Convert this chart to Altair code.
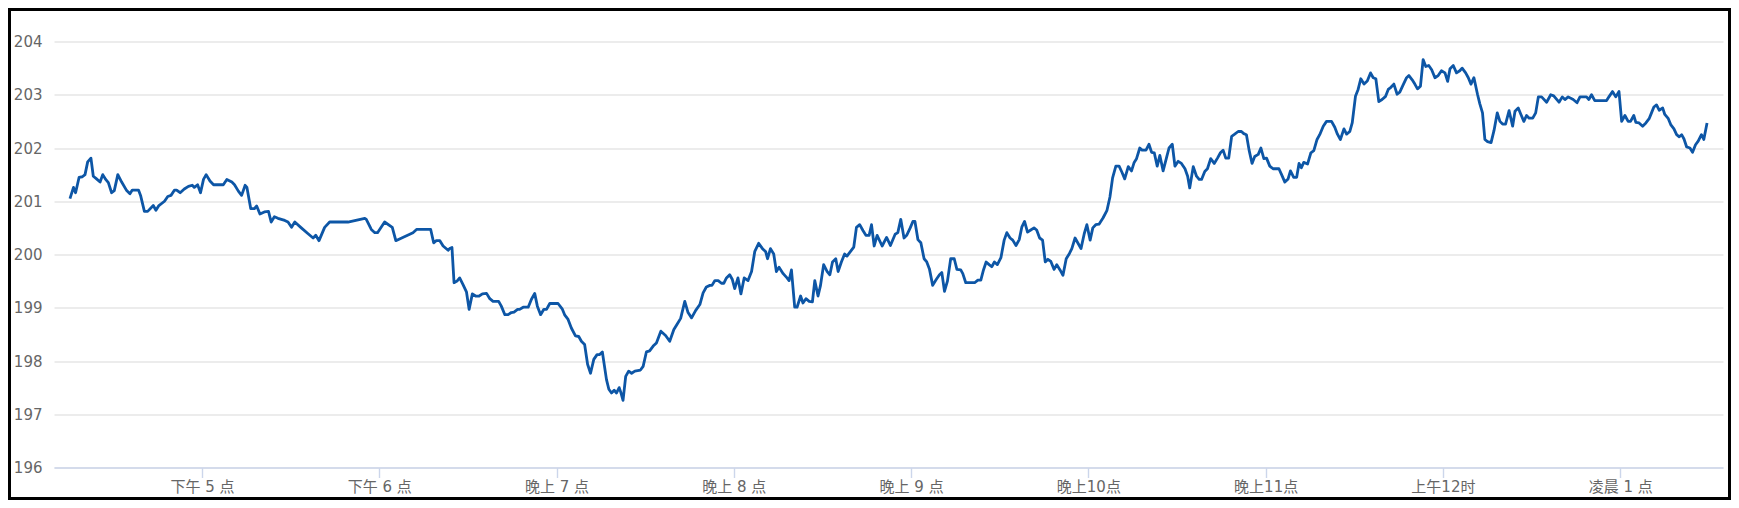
import altair as alt
import pandas as pd

# Time of each reading, in minutes after 4 PM (16:00)
minutes_after_4pm = [
    15.3, 16.5, 17.2, 18.4, 19.5, 20.4, 21.3, 22.4, 23.2, 24.1, 25.5, 26.4, 27.4, 28.3, 29.4, 30.3,
    31.5, 32.8, 34.5, 35.6, 36.4, 38.5, 39.2, 40.5, 41.6, 43.5, 44.4, 45.4, 47.3, 48.4, 49.5, 50.7,
    51.4, 52.6, 54.0, 55.4, 56.7, 57.4, 58.5, 59.5, 60.5, 61.4, 62.7, 63.9, 67.2, 68.4, 70.1, 71.0,
    72.3, 73.4, 74.6, 75.2, 76.5, 77.7, 78.5, 79.6, 81.1, 82.5, 83.4, 84.5, 85.7, 88.0, 89.1, 90.3,
    91.4, 93.6, 95.9, 97.6, 98.5, 99.6, 101.5, 103.2, 109.4, 115.1, 115.6, 117.3, 118.5, 119.4, 121.8,
    124.4, 125.6, 131.4, 132.6, 137.4, 138.4, 139.3, 140.5, 141.6, 143.3, 143.8, 144.6, 145.3, 146.3,
    147.2, 148.3, 149.5, 150.4, 151.5, 152.6, 153.8, 154.9, 156.3, 157.4, 158.5, 160.4, 161.3, 162.5,
    163.6, 164.7, 165.6, 166.8, 167.5, 168.7, 170.4, 171.5, 172.6, 173.5, 174.6, 175.7, 176.6, 177.7,
    180.5, 181.9, 182.8, 183.9, 185.0, 186.4, 187.5, 188.4, 189.5, 190.5, 191.5, 192.6, 193.7, 194.6,
    195.5, 196.9, 197.7, 198.6, 199.5, 200.3, 201.2, 201.7, 202.5, 203.4, 204.4, 205.4, 206.5, 208.4,
    209.3, 210.4, 211.5, 212.7, 213.8, 215.3, 216.9, 218.3, 219.7, 220.8, 222.0, 223.4, 224.5, 225.7,
    227.1, 228.5, 229.6, 230.7, 231.9, 232.6, 233.6, 234.7, 235.8, 236.6, 237.5, 238.6, 239.5, 240.3,
    241.4, 242.4, 243.5, 244.8, 246.0, 247.1, 248.4, 249.7, 250.8, 251.4, 252.4, 253.5, 254.4, 255.3,
    256.7, 258.0, 258.7, 259.5, 260.6, 261.4, 262.6, 263.4, 264.4, 265.5, 266.6, 267.4, 268.5, 269.3,
    270.4, 271.6, 272.5, 273.4, 274.5, 275.3, 276.4, 277.5, 278.3, 279.5, 280.6, 281.5, 282.6, 283.7,
    284.7, 285.8, 286.6, 287.5, 288.5, 290.2, 291.7, 293.0, 294.6, 295.5, 296.5, 297.6, 298.5, 299.7,
    300.6, 301.3, 302.3, 303.3, 304.4, 305.3, 306.2, 307.3, 308.5, 309.6, 310.4, 311.3, 312.3, 313.4,
    314.6, 315.5, 316.8, 317.5, 318.5, 321.5, 322.6, 323.6, 324.5, 325.4, 326.4, 327.3, 328.2, 329.2,
    330.4, 331.5, 332.4, 333.5, 334.4, 335.5, 336.6, 337.5, 338.4, 339.4, 340.5, 341.6, 342.5, 343.5,
    344.5, 345.4, 346.3, 347.3, 348.4, 349.3, 350.4, 351.4, 352.5, 353.6, 354.4, 355.5, 356.4, 357.5,
    358.6, 359.5, 360.6, 361.5, 362.5, 363.6, 365.0, 366.3, 367.3, 368.2, 369.3, 370.4, 371.4, 372.3,
    373.5, 374.6, 375.5, 376.3, 377.4, 378.2, 379.5, 380.5, 381.4, 382.3, 383.3, 384.2, 385.3, 386.5,
    387.3, 388.4, 389.3, 390.4, 391.5, 392.7, 393.6, 394.3, 395.5, 396.6, 397.5, 398.3, 399.4, 400.3,
    401.4, 402.6, 403.7, 404.7, 405.6, 406.5, 407.5, 408.5, 409.3, 410.7, 411.8, 412.6, 413.5, 414.4,
    415.4, 416.3, 417.5, 418.4, 419.4, 420.3, 421.4, 422.5, 424.5, 425.4, 426.5, 427.6, 428.4, 429.5,
    430.5, 431.3, 432.1, 432.9, 434.2, 435.3, 436.3, 437.4, 438.3, 439.5, 440.6, 442.3, 443.4, 444.3,
    445.3, 446.5, 447.4, 448.5, 449.3, 450.4, 451.3, 452.2, 453.3, 454.4, 455.5, 456.4, 457.3, 458.3,
    459.4, 460.6, 461.5, 462.4, 463.4, 464.5, 465.4, 466.5, 467.7, 468.5, 469.6, 470.5, 471.4, 472.4,
    473.3, 474.2, 475.2, 476.2, 477.3, 478.4, 479.5, 480.7, 481.6, 482.4, 483.5, 484.6, 485.7, 486.5,
    487.7, 488.6, 489.5, 490.5, 491.7, 492.5, 493.4, 494.2, 495.1, 496.3, 497.3, 498.4, 499.3, 500.2,
    501.2, 502.4, 503.6, 504.4, 505.5, 506.4, 507.4, 508.3, 509.2, 510.4, 511.4, 512.3, 513.4, 515.1,
    516.5, 517.5, 519.3, 520.4, 521.3, 522.4, 524.1, 525.4, 526.4, 528.6, 529.4, 530.3, 531.4, 535.4,
    536.3, 537.4, 538.5, 539.6, 540.5, 541.6, 542.7, 543.5, 544.6, 545.3, 546.4, 547.6, 548.7, 549.8,
    550.6, 551.4, 552.3, 553.2, 554.4, 555.1, 556.3, 557.1, 558.2, 559.1, 560.0, 560.8, 561.6, 562.5,
    563.6, 564.5, 565.5, 566.4, 567.5, 568.3, 569.4,
]

price = [
    201.05, 201.26, 201.16, 201.45, 201.46, 201.50, 201.74, 201.81, 201.47, 201.43, 201.36, 201.50, 201.41, 201.35, 201.16, 201.20,
    201.50, 201.36, 201.20, 201.14, 201.21, 201.21, 201.11, 200.81, 200.81, 200.92, 200.83, 200.92, 201.00, 201.09, 201.11, 201.21,
    201.21, 201.16, 201.23, 201.28, 201.30, 201.26, 201.31, 201.16, 201.41, 201.50, 201.38, 201.31, 201.31, 201.41, 201.36, 201.31,
    201.19, 201.11, 201.30, 201.26, 200.86, 200.86, 200.91, 200.76, 200.80, 200.81, 200.61, 200.71, 200.68, 200.64, 200.61, 200.51,
    200.61, 200.50, 200.39, 200.31, 200.36, 200.26, 200.51, 200.61, 200.61, 200.68, 200.66, 200.47, 200.41, 200.41, 200.61,
    200.51, 200.26, 200.41, 200.47, 200.47, 200.22, 200.26, 200.26, 200.16, 200.08, 200.11, 200.13, 199.47, 199.50,
    199.56, 199.44, 199.30, 198.97, 199.26, 199.22, 199.22, 199.26, 199.27, 199.17, 199.12, 199.12, 199.03, 198.87,
    198.87, 198.91, 198.92, 198.97, 198.97, 199.01, 199.01, 199.16, 199.27, 199.03, 198.87, 198.97, 198.97, 199.08,
    199.08, 198.98, 198.86, 198.78, 198.62, 198.47, 198.46, 198.37, 198.31, 197.94, 197.77, 198.03, 198.12, 198.12,
    198.17, 197.65, 197.47, 197.40, 197.45, 197.40, 197.50, 197.42, 197.26, 197.71, 197.81, 197.77, 197.81, 197.83,
    197.90, 198.17, 198.19, 198.28, 198.34, 198.56, 198.48, 198.37, 198.59, 198.69, 198.80, 199.12, 198.91, 198.81,
    198.95, 199.06, 199.28, 199.39, 199.42, 199.42, 199.51, 199.51, 199.46, 199.46, 199.56, 199.62, 199.53, 199.36,
    199.56, 199.26, 199.56, 199.51, 199.68, 200.06, 200.21, 200.11, 200.05, 199.92, 200.11, 200.01, 199.68, 199.76,
    199.64, 199.56, 199.51, 199.71, 199.01, 199.01, 199.22, 199.09, 199.17, 199.12, 199.11, 199.51, 199.22, 199.41,
    199.81, 199.68, 199.62, 199.86, 199.92, 199.68, 199.86, 200.01, 199.97, 200.06, 200.14, 200.51, 200.56, 200.45,
    200.36, 200.36, 200.56, 200.16, 200.36, 200.16, 200.32, 200.17, 200.38, 200.41, 200.66, 200.31, 200.36, 200.50,
    200.62, 200.62, 200.28, 200.22, 199.92, 199.86, 199.73, 199.42, 199.53, 199.62, 199.66, 199.31, 199.50, 199.92,
    199.92, 199.72, 199.71, 199.64, 199.47, 199.47, 199.52, 199.52, 199.71, 199.86, 199.81, 199.77, 199.86, 199.81,
    199.94, 200.27, 200.41, 200.31, 200.27, 200.17, 200.28, 200.52, 200.62, 200.42, 200.46, 200.50, 200.46, 200.31,
    200.27, 199.86, 199.91, 199.87, 199.72, 199.81, 199.71, 199.61, 199.92, 200.02, 200.11, 200.31, 200.22, 200.11,
    200.39, 200.56, 200.27, 200.50, 200.56, 200.57, 200.69, 200.83, 201.08, 201.44, 201.66, 201.66, 201.54, 201.42,
    201.65, 201.57, 201.73, 201.80, 202.00, 201.96, 201.96, 202.07, 201.92, 201.91, 201.66, 201.86, 201.57, 201.83,
    202.00, 202.07, 201.66, 201.75, 201.71, 201.61, 201.47, 201.25, 201.65, 201.47, 201.41, 201.41, 201.56, 201.61,
    201.80, 201.71, 201.81, 201.91, 201.96, 201.81, 201.81, 202.22, 202.25, 202.31, 202.31, 202.27, 202.25, 201.96,
    201.71, 201.84, 201.88, 202.00, 201.80, 201.81, 201.66, 201.61, 201.61, 201.50, 201.36, 201.42, 201.57, 201.45,
    201.45, 201.71, 201.63, 201.73, 201.70, 201.91, 201.95, 202.16, 202.25, 202.41, 202.50, 202.50, 202.39, 202.26,
    202.16, 202.36, 202.26, 202.31, 202.47, 202.97, 203.10, 203.30, 203.20, 203.26, 203.41, 203.32, 203.30, 202.87,
    202.91, 202.97, 203.10, 203.14, 203.20, 203.01, 203.05, 203.18, 203.32, 203.36, 203.28, 203.20, 203.11, 203.16,
    203.66, 203.53, 203.55, 203.47, 203.32, 203.36, 203.45, 203.41, 203.25, 203.49, 203.55, 203.41, 203.45, 203.50,
    203.41, 203.32, 203.20, 203.32, 203.01, 202.83, 202.66, 202.16, 202.12, 202.10, 202.33, 202.66, 202.50, 202.45,
    202.45, 202.70, 202.41, 202.69, 202.75, 202.63, 202.50, 202.61, 202.56, 202.56, 202.66, 202.96, 202.96, 202.86,
    203.00, 202.98, 202.86, 202.96, 202.91, 202.96, 202.91, 202.85, 202.96, 202.96, 202.91, 203.00, 202.89, 202.89,
    202.97, 203.06, 202.96, 203.06, 202.50, 202.61, 202.50, 202.50, 202.61, 202.48, 202.47, 202.41, 202.47, 202.55,
    202.66, 202.77, 202.81, 202.71, 202.75, 202.63, 202.55, 202.44, 202.36, 202.25, 202.21, 202.25, 202.17, 202.02,
    202.00, 201.92, 202.06, 202.13, 202.25, 202.16, 202.47,
]

hour_ticks = [60, 120, 180, 240, 300, 360, 420, 480, 540]
hour_labels = ["下午 5 点", "下午 6 点", "晚上 7 点", "晚上 8 点", "晚上 9 点",
               "晚上10点", "晚上11点", "上午12时", "凌晨 1 点"]
y_ticks = [196, 197, 198, 199, 200, 201, 202, 203, 204]

df = pd.DataFrame({"m": minutes_after_4pm, "price": price})

W, H = 1669, 426
PAD = {"left": 46, "top": 33.5, "right": 8, "bottom": 32.5}
FONT = "DejaVu Sans, Noto Sans CJK SC"

label_array = "[" + ",".join("'" + s + "'" for s in hour_labels) + "]"
label_expr = label_array + "[round(datum.value / 60) - 1]"

line = alt.Chart(df).mark_line(color="#0d56a6", strokeWidth=2.8, strokeJoin="round").encode(
    x=alt.X(
        "m:Q",
        scale=alt.Scale(domain=[9.9, 574.8], nice=False, zero=False),
        axis=alt.Axis(
            values=hour_ticks, labelExpr=label_expr, title=None, grid=False,
            domainColor="#ccd6eb", domainWidth=1.4, tickColor="#ccd6eb", tickWidth=1.4,
            tickSize=10, labelPadding=1.5, labelFont=FONT, labelFontSize=15,
            labelColor="#666666", labelOverlap=False, labelFlush=False,
        ),
    ),
    y=alt.Y(
        "price:Q",
        scale=alt.Scale(domain=[196, 204], nice=False, zero=False),
        axis=alt.Axis(
            values=y_ticks, format="d", title=None, domain=False, ticks=False, tickSize=0,
            labelPadding=12, gridColor="#e6e6e6", gridWidth=1.4, labelFont=FONT,
            labelFontSize=15, labelColor="#666666", labelOverlap=False, labelFlush=False,
        ),
    ),
)

frame = alt.Chart(pd.DataFrame({"k": [0]})).mark_rect(
    fillOpacity=0, stroke="black", strokeWidth=3
).encode(
    x=alt.value(-PAD["left"] + 1.5),
    x2=alt.value(W + PAD["right"] - 1.5),
    y=alt.value(-PAD["top"] + 1.5),
    y2=alt.value(H + PAD["bottom"] - 1.5),
)

chart = alt.layer(line, frame).properties(
    width=W, height=H, padding=PAD, autosize=alt.AutoSizeParams(type="none")
).configure_view(strokeWidth=0)

chart.save("out.html", embed_options={"renderer": "svg", "actions": False})
